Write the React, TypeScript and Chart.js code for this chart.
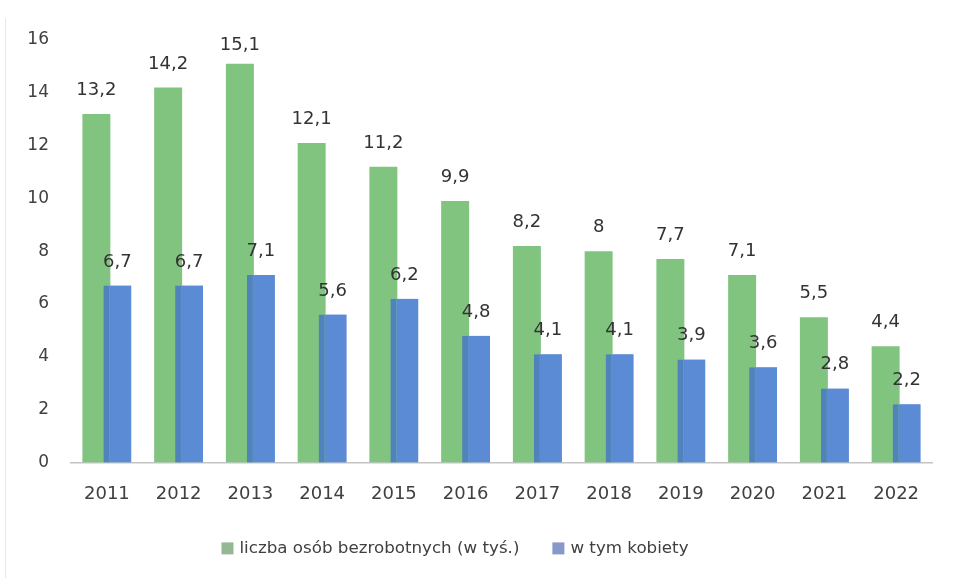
import React, { useEffect, useRef } from "react";
import { Chart, registerables } from "chart.js";

Chart.register(...registerables);

const years = ["2011", "2012", "2013", "2014", "2015", "2016", "2017", "2018", "2019", "2020", "2021", "2022"];
const unemployed = [13.2, 14.2, 15.1, 12.1, 11.2, 9.9, 8.2, 8, 7.7, 7.1, 5.5, 4.4];
const women = [6.7, 6.7, 7.1, 5.6, 6.2, 4.8, 4.1, 4.1, 3.9, 3.6, 2.8, 2.2];
const seriesNames = ["liczba osób bezrobotnych (w tyś.)", "w tym kobiety"];
const yMin = 0;
const yMax = 16;
const yStep = 2;

const FONT = "'DejaVu Sans', sans-serif";
const barColors = ["#80c480", "#5b8bd5"];
const overlapShade = "#5082bb";
const legendColors = ["#94b894", "#8898c8"];

const fmt = (v: number) => String(v).replace(".", ",");

// Blue bars sit in front of the green ones; labels above every bar.
const frontAndLabels = {
  id: "frontAndLabels",
  afterDatasetsDraw(chart: any) {
    const blueMeta = chart.getDatasetMeta(1);
    blueMeta.controller.draw();
    const ctx = chart.ctx;
    ctx.save();
    ctx.font = `18px ${FONT}`;
    ctx.fillStyle = "#333333";
    ctx.textAlign = "center";
    ctx.textBaseline = "alphabetic";
    const minBase = chart.chartArea.top + 10;
    chart.data.datasets.forEach((ds: any, di: number) => {
      const meta = chart.getDatasetMeta(di);
      meta.data.forEach((bar: any, i: number) => {
        ctx.fillText(fmt(ds.data[i]), bar.x, Math.max(bar.y - 19, minBase));
      });
    });
    ctx.restore();
  },
};

const customLegend = {
  id: "customLegend",
  afterDraw(chart: any) {
    const ctx = chart.ctx;
    ctx.save();
    ctx.font = `16.7px ${FONT}`;
    const box = 12;
    const gap = 6;
    const between = 33;
    const widths = seriesNames.map((n) => ctx.measureText(n).width);
    const total = widths.reduce((a, w) => a + box + gap + w, 0) + between * (seriesNames.length - 1);
    const centerX = chart.width / 2 - 22;
    let x = centerX - total / 2;
    const y = chart.chartArea.bottom + 86;
    seriesNames.forEach((n, i) => {
      ctx.fillStyle = legendColors[i];
      ctx.fillRect(x, y - box / 2, box, box);
      x += box + gap;
      ctx.fillStyle = "#404040";
      ctx.textBaseline = "middle";
      ctx.textAlign = "left";
      ctx.fillText(n, x, y);
      x += widths[i] + between;
    });
    ctx.restore();
  },
};

export default function App() {
  const ref = useRef<HTMLCanvasElement | null>(null);

  useEffect(() => {
    if (!ref.current) return;
    const chart = new Chart(ref.current, {
      type: "bar",
      data: {
        labels: years,
        datasets: [
          {
            label: seriesNames[0],
            data: unemployed,
            backgroundColor: barColors[0],
            categoryPercentage: 0.585,
            barPercentage: 1.333,
          },
          {
            label: seriesNames[1],
            data: women,
            backgroundColor: barColors[1],
            borderColor: overlapShade,
            borderWidth: { left: 6, top: 0, right: 0, bottom: 0 },
            borderSkipped: false,
            categoryPercentage: 0.585,
            barPercentage: 1.333,
          },
        ],
      },
      options: {
        animation: false,
        responsive: false,
        maintainAspectRatio: false,
        layout: { padding: { left: 0, right: 22, top: 40, bottom: 52 } },
        scales: {
          x: {
            grid: { display: false, drawTicks: false },
            border: { display: true, color: "#c4c4c4", width: 1.5 },
            ticks: { font: { family: FONT, size: 18 }, color: "#404040", padding: 21 },
          },
          y: {
            min: yMin,
            max: yMax,
            grid: { display: false, drawTicks: false },
            border: { display: false },
            ticks: {
              stepSize: yStep,
              font: { family: FONT, size: 17 },
              color: "#404040",
              padding: 22,
            },
            afterFit: (scale: any) => {
              scale.width = 71;
            },
          },
        },
        plugins: {
          title: { display: false },
          tooltip: { enabled: false },
          legend: { display: false },
        },
      },
      plugins: [frontAndLabels, customLegend],
    });
    return () => chart.destroy();
  }, []);

  return (
    <div style={{ position: "absolute", left: 0, top: 0, width: 954, height: 578, background: "#ffffff" }}>
      <div style={{ position: "absolute", left: 5, top: 18, bottom: 0, width: 1, background: "#e8e8e8" }} />
      <canvas ref={ref} width={954} height={578} style={{ position: "absolute", left: 0, top: 0 }} />
    </div>
  );
}
